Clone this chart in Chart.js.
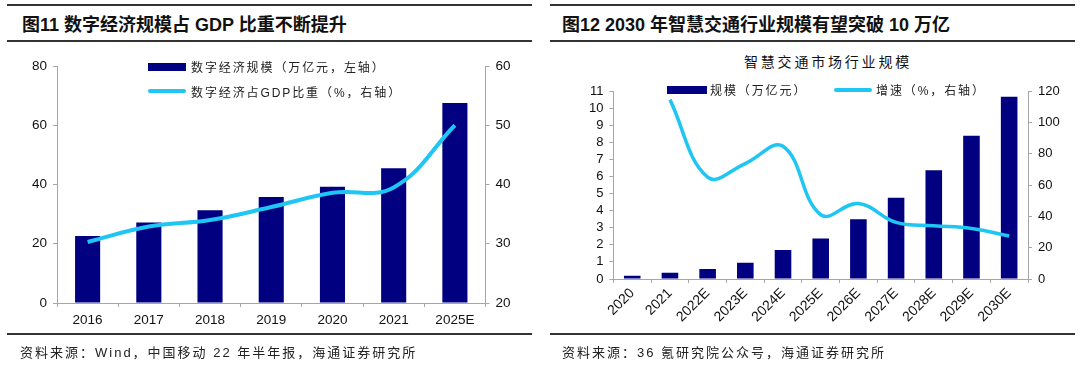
<!DOCTYPE html>
<html>
<head>
<meta charset="utf-8">
<script src="https://cdn.jsdelivr.net/npm/chart.js@4.4.1/dist/chart.umd.min.js"></script>
<style>
  body { margin: 0; width: 1080px; height: 366px; background: #fff; position: relative; overflow: hidden;
         font-family: "Liberation Sans", "Noto Sans CJK SC", sans-serif; color: #111; }
  .rule { position: absolute; height: 2px; background: #333; }
  .title { position: absolute; top: 10px; font-size: 18px; font-weight: bold; white-space: nowrap; }
  .src { position: absolute; top: 342px; font-size: 13px; letter-spacing: 2px; white-space: nowrap; color: #222;
         font-family: "Liberation Sans", "Noto Sans CJK SC", sans-serif; }
  .box { position: absolute; }
  .leg { position: absolute; font-size: 12px; letter-spacing: 1.9px; white-space: nowrap;
         font-family: "Liberation Sans", "Noto Sans CJK SC", sans-serif; color: #222; }
  .sw-bar { position: absolute; background: #000080; }
  .sw-line { position: absolute; height: 4px; border-radius: 2px; background: #1fc5f3; }
  .sub { position: absolute; top: 51px; left: 744px; font-size: 14px; letter-spacing: 2.8px; white-space: nowrap;
         font-family: "Noto Sans CJK SC", sans-serif; color: #111; }
</style>
</head>
<body>

<!-- left panel -->
<div class="rule" style="left:7px; top:4px; width:525px;"></div>
<div class="title" style="left:22px;">图11 数字经济规模占 GDP 比重不断提升</div>
<div class="rule" style="left:7px; top:40px; width:525px;"></div>
<div class="box" style="left:0; top:50px; width:540px; height:284px;"><canvas id="digitalChart"></canvas></div>
<div class="sw-bar" style="left:148px; top:63px; width:38px; height:8px;"></div>
<div class="leg" style="left:191px; top:58px;">数字经济规模（万亿元，左轴）</div>
<div class="sw-line" style="left:148px; top:89px; width:38px;"></div>
<div class="leg" style="left:191px; top:83px;">数字经济占GDP比重（%，右轴）</div>
<div class="rule" style="left:7px; top:333px; width:525px;"></div>
<div class="src" style="left:20px;">资料来源：Wind，中国移动 22 年半年报，海通证券研究所</div>

<!-- right panel -->
<div class="rule" style="left:550px; top:4px; width:525px;"></div>
<div class="title" style="left:562px;">图12 2030 年智慧交通行业规模有望突破 10 万亿</div>
<div class="rule" style="left:550px; top:40px; width:525px;"></div>
<div class="sub">智慧交通市场行业规模</div>
<div class="box" style="left:540px; top:70px; width:540px; height:264px;"><canvas id="trafficChart"></canvas></div>
<div class="sw-bar" style="left:667px; top:86px; width:40px; height:8px;"></div>
<div class="leg" style="left:710px; top:81px;">规模（万亿元）</div>
<div class="sw-line" style="left:834px; top:88px; width:38px;"></div>
<div class="leg" style="left:876px; top:81px;">增速（%，右轴）</div>
<div class="rule" style="left:550px; top:333px; width:525px;"></div>
<div class="src" style="left:562px;">资料来源：36 氪研究院公众号，海通证券研究所</div>

<script>
// chart 1 data: digital economy
const digitalYears = ['2016', '2017', '2018', '2019', '2020', '2021', '2025E'];
const digitalScale = [22.6, 27.2, 31.3, 35.8, 39.2, 45.5, 67.5];   // 万亿元, left axis
const digitalShare = [30.3, 32.9, 34.0, 36.2, 38.6, 39.5, 50.0];   // %, right axis

// chart 2 data: smart transport market
const trafficYears = ['2020', '2021', '2022E', '2023E', '2024E', '2025E', '2026E', '2027E', '2028E', '2029E', '2030E'];
const trafficScale = [0.19, 0.37, 0.58, 0.95, 1.69, 2.37, 3.50, 4.76, 6.36, 8.38, 10.66];  // 万亿元
const trafficGrowth = [null, 114.5, 65.0, 73.7, 84.7, 41.0, 48.2, 36.1, 34.0, 32.3, 27.4];  // %

const navy = '#000080';
const cyan = '#1fc5f3';
const axisGrey = '#a6a6a6';
const tickFont = { family: '"Liberation Sans", Arial, sans-serif', size: 13.5 };

function fixWidth(w) {
    return function (scale) { scale.width = w; };
}
function fixHeight(h) {
    return function (scale) { scale.height = h; };
}

function yAxis(position, min, max, step, width, font) {
    return {
        position: position,
        min: min,
        max: max,
        afterFit: fixWidth(width),
        grid: { drawOnChartArea: false, color: axisGrey, tickLength: 4 },
        border: { color: axisGrey, width: 1 },
        ticks: { stepSize: step, autoSkip: false, color: '#111', font: font, padding: 6 }
    };
}

// left chart
new Chart(document.getElementById('digitalChart').getContext('2d'), {
    type: 'bar',
    data: {
        labels: digitalYears,
        datasets: [{
            type: 'line',
            label: '数字经济占GDP比重（%，右轴）',
            data: digitalShare,
            yAxisID: 'y1',
            borderColor: cyan,
            borderWidth: 4,
            pointRadius: 0,
            tension: 0.4,
            fill: false
        }, {
            label: '数字经济规模（万亿元，左轴）',
            data: digitalScale,
            yAxisID: 'y',
            backgroundColor: navy,
            categoryPercentage: 1,
            barPercentage: 0.41
        }]
    },
    options: {
        responsive: true,
        maintainAspectRatio: false,
        animation: false,
        layout: { padding: { top: 16, left: 0, right: 0, bottom: 0 } },
        plugins: { legend: { display: false }, tooltip: { enabled: false } },
        scales: {
            x: {
                afterFit: fixHeight(31),
                grid: { drawOnChartArea: false, color: axisGrey, tickLength: 4, offset: true },
                border: { color: axisGrey },
                ticks: { color: '#111', font: tickFont, padding: 5, maxRotation: 0 }
            },
            y: yAxis('left', 0, 80, 20, 57, tickFont),
            y1: yAxis('right', 20, 60, 10, 54.5, tickFont)
        }
    }
});

// right chart
const smallFont = { family: '"Liberation Sans", Arial, sans-serif', size: 13 };
const rotFont = { family: '"Liberation Sans", Arial, sans-serif', size: 14 };
new Chart(document.getElementById('trafficChart').getContext('2d'), {
    type: 'bar',
    data: {
        labels: trafficYears,
        datasets: [{
            type: 'line',
            label: '增速（%，右轴）',
            data: trafficGrowth,
            yAxisID: 'y1',
            borderColor: cyan,
            borderWidth: 3.5,
            pointRadius: 0,
            tension: 0.4,
            fill: false
        }, {
            label: '规模（万亿元）',
            data: trafficScale,
            yAxisID: 'y',
            backgroundColor: navy,
            categoryPercentage: 1,
            barPercentage: 0.44
        }]
    },
    options: {
        responsive: true,
        maintainAspectRatio: false,
        animation: false,
        layout: { padding: { top: 21, left: 0, right: 0, bottom: 0 } },
        plugins: { legend: { display: false }, tooltip: { enabled: false } },
        scales: {
            x: {
                afterFit: fixHeight(55),
                grid: { drawOnChartArea: false, color: axisGrey, tickLength: 4, offset: true },
                border: { color: axisGrey },
                ticks: { color: '#111', font: rotFont, padding: 2, minRotation: 45, maxRotation: 45, autoSkip: false }
            },
            y: yAxis('left', 0, 11, 1, 73.4, smallFont),
            y1: yAxis('right', 0, 120, 20, 52, smallFont)
        }
    }
});
</script>
</body>
</html>
